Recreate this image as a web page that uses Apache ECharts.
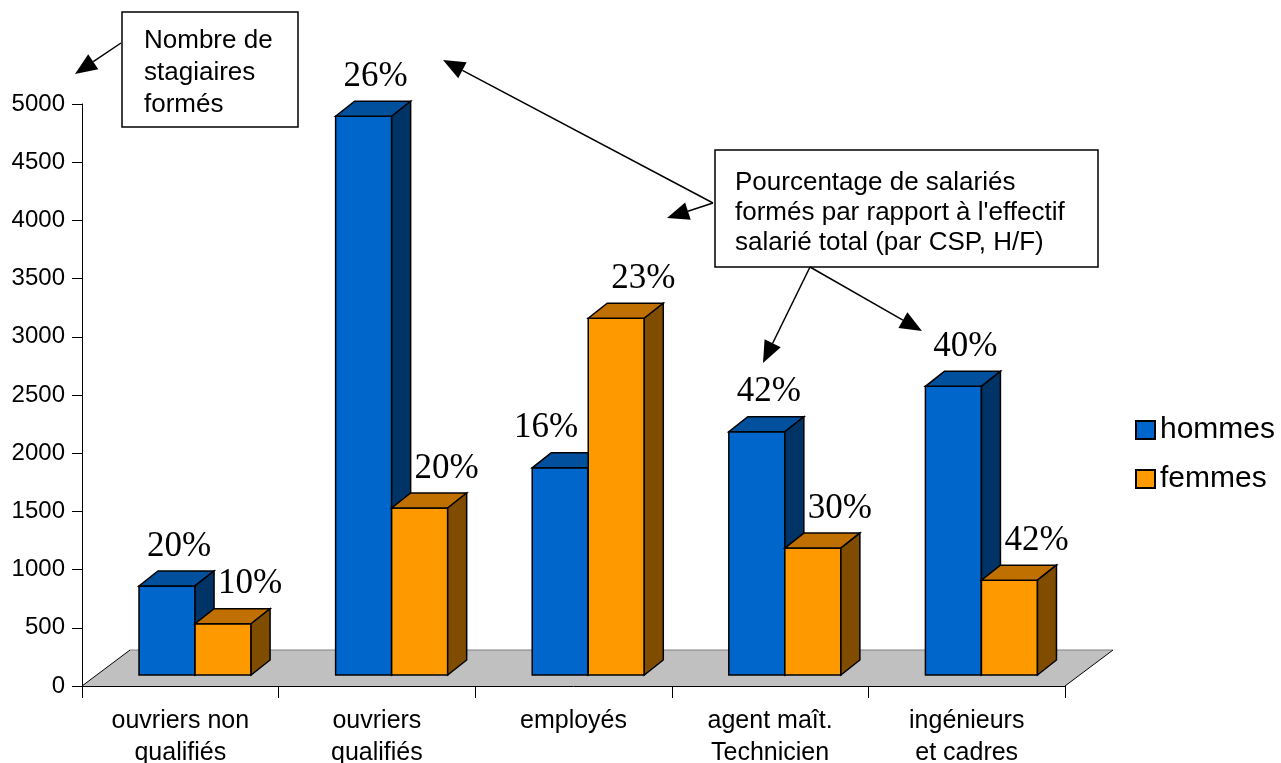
<!DOCTYPE html>
<html><head><meta charset="utf-8">
<script src="https://cdn.jsdelivr.net/npm/echarts@6/dist/echarts.min.js"></script>
<style>html,body{margin:0;padding:0;background:#fff}#chart{width:1281px;height:763px}</style>
</head><body><div id="chart"></div>
<script>
// stagiaires formés par CSP, hommes / femmes
const categories = ['ouvriers non\nqualifiés', 'ouvriers\nqualifiés', 'employés', 'agent maît.\nTechnicien', 'ingénieurs\net cadres']
const hommes = [765, 4800, 1780, 2090, 2480]
const femmes = [440, 1435, 3065, 1090, 815]
const pctHommes = ['20%', '26%', '16%', '42%', '40%']
const pctFemmes = ['10%', '20%', '23%', '30%', '42%']

const chart = echarts.init(document.getElementById('chart'))
const DX = 19, DY = 15   // depth of a bar
const FX = 48, FY = 36   // depth of the floor

const bar3d = (second, front, top, side, labels, labelShift, other) => (params, api) => {
  const i = api.value(0)
  const base = api.coord([i, 0])
  const peak = api.coord([i, api.value(1)])
  const band = api.size([1, 0])[0]
  const w = band * 0.285
  const x = base[0] - band * 0.21 + (second ? w : 0)
  const y0 = base[1] - 11
  const y1 = y0 - (base[1] - peak[1])
  const st = { stroke: '#000', lineWidth: 1.5 }
  // a hidden label (neighbour bar taller) goes to the left, clear of it
  const blocked = other && other[i] > api.value(1)
  const label = blocked
    ? { x: x + w - 10, align: 'right' }
    : { x: x + w / 2 + labelShift, align: 'center' }
  return {
    type: 'group',
    children: [
      { type: 'rect', shape: { x: x, y: y1, width: w, height: y0 - y1 }, style: { ...st, fill: front } },
      { type: 'polygon', shape: { points: [[x, y1], [x + w, y1], [x + w + DX, y1 - DY], [x + DX, y1 - DY]] }, style: { ...st, fill: top } },
      { type: 'polygon', shape: { points: [[x + w, y1], [x + w + DX, y1 - DY], [x + w + DX, y0 - DY], [x + w, y0]] }, style: { ...st, fill: side } },
      { type: 'text', x: label.x, y: y1 - DY - 7, z2: 10,
        style: { text: labels[i], font: '35px "Liberation Serif"', fill: '#000', align: label.align, verticalAlign: 'bottom' } }
    ]
  }
}

function arrow(x1, y1, x2, y2) {
  const a = Math.atan2(y2 - y1, x2 - x1), L = 22, W = 9
  const bx = x2 - L * Math.cos(a), by = y2 - L * Math.sin(a)
  return [
    { type: 'line', z: 100, shape: { x1, y1, x2: bx, y2: by }, style: { stroke: '#000', lineWidth: 1.5 } },
    { type: 'polygon', z: 100, shape: { points: [[x2, y2], [bx - W * Math.sin(a), by + W * Math.cos(a)], [bx + W * Math.sin(a), by - W * Math.cos(a)]] }, style: { fill: '#000' } }
  ]
}

const boxText = (x, y, w, h, tx, ty, text, lh) => [
  { type: 'rect', z: 100, shape: { x, y, width: w, height: h }, style: { fill: '#fff', stroke: '#000', lineWidth: 1.5 } },
  { type: 'text', z: 101, x: tx, y: ty, style: { text, font: '26px "Liberation Sans"', fill: '#000', lineHeight: lh } }
]

chart.setOption({
  animation: false,
  grid: { left: 82, right: 216, top: 104, bottom: 77, outerBoundsMode: 'none', containLabel: false },
  legend: {
    data: ['hommes', 'femmes'], orient: 'vertical', left: 1130, top: 410,
    icon: 'rect', itemWidth: 19, itemHeight: 18, itemGap: 19,
    textStyle: { fontFamily: 'Liberation Sans', fontSize: 30, color: '#000', lineHeight: 30 }
  },
  xAxis: {
    type: 'category', data: categories,
    axisLine: { lineStyle: { color: '#000', width: 1 } },
    axisTick: { show: true, interval: 0, length: 12, lineStyle: { color: '#000' } },
    axisLabel: { interval: 0, margin: 19, color: '#000', fontFamily: 'Liberation Sans', fontSize: 25, lineHeight: 32 },
    splitLine: { show: false }
  },
  yAxis: {
    type: 'value', min: 0, max: 5000, interval: 500,
    axisLine: { show: true, lineStyle: { color: '#000', width: 1 } },
    axisTick: { show: true, length: 10, lineStyle: { color: '#000' } },
    axisLabel: { margin: 17, color: '#000', fontFamily: 'Liberation Sans', fontSize: 24, formatter: v => String(v) },
    splitLine: { show: false }
  },
  series: [
    {
      type: 'custom', z: 1, silent: true, data: [[0, 0]],
      renderItem: (params, api) => {
        const band = api.size([1, 0])[0]
        const a = api.coord([0, 0]), b = api.coord([categories.length - 1, 0])
        const x0 = a[0] - band / 2, x1 = b[0] + band / 2, y = a[1]
        return { type: 'group', children: [
          { type: 'polygon', shape: { points: [[x0, y], [x1, y], [x1 + FX, y - FY], [x0 + FX, y - FY]] }, style: { fill: '#C0C0C0' } },
          { type: 'line', shape: { x1: x0 + FX, y1: y - FY, x2: x1 + FX, y2: y - FY }, style: { stroke: '#808080', lineWidth: 1 } },
          { type: 'line', shape: { x1: x0, y1: y, x2: x0 + FX, y2: y - FY }, style: { stroke: '#000', lineWidth: 1 } },
          { type: 'line', shape: { x1: x1, y1: y, x2: x1 + FX, y2: y - FY }, style: { stroke: '#000', lineWidth: 1 } }
        ] }
      }
    },
    {
      name: 'hommes', type: 'custom', z: 3,
      itemStyle: { color: '#0066CC', borderColor: '#000', borderWidth: 1.5 },
      data: hommes.map((v, i) => [i, v]),
      renderItem: bar3d(false, '#0066CC', '#00509E', '#003366', pctHommes, 12, femmes)
    },
    {
      name: 'femmes', type: 'custom', z: 4,
      itemStyle: { color: '#FF9900', borderColor: '#000', borderWidth: 1.5 },
      data: femmes.map((v, i) => [i, v]),
      renderItem: bar3d(true, '#FF9900', '#C07000', '#7F4C00', pctFemmes, 27)
    }
  ],
  graphic: [
    ...boxText(122, 12, 176, 115, 144, 25, 'Nombre de\nstagiaires\nformés', 32),
    ...boxText(715, 150, 383, 117, 735, 168, 'Pourcentage de salariés\nformés par rapport à l\'effectif\nsalarié total (par CSP, H/F)', 30),
    ...arrow(121, 43, 75, 74),
    ...arrow(713, 203, 443, 60),
    ...arrow(713, 203, 667, 218),
    ...arrow(810, 267, 763, 363),
    ...arrow(810, 267, 922, 331)
  ]
})
</script>
</body></html>
